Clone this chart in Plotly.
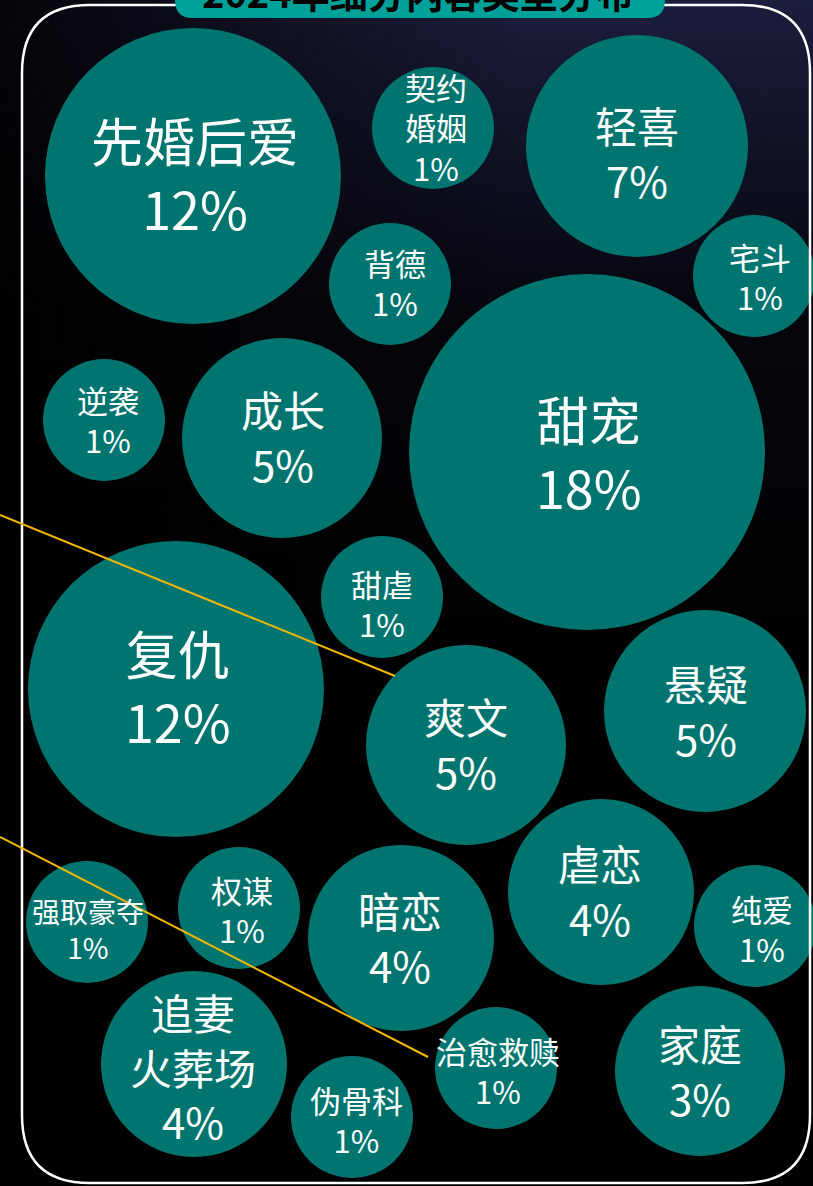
import plotly.graph_objects as go

# ---------------- data ----------------
categories = ["先婚后爱", "契约<br>婚姻", "轻喜", "宅斗", "背德", "逆袭", "成长", "甜宠", "甜虐",
              "复仇", "爽文", "悬疑", "虐恋", "纯爱", "强取豪夺", "权谋", "暗恋",
              "追妻<br>火葬场", "治愈救赎", "伪骨科", "家庭"]
shares = [12, 1, 7, 1, 1, 1, 5, 18, 1, 12, 5, 5, 4, 1, 1, 1, 4, 4, 1, 1, 3]
title_text = "2024年细分内容类型分布"

# ---------------- layout (pixel positions of the packed bubbles) ----------------
W, H = 813, 1186
bubble_x = [193, 433, 637, 754, 390, 104, 282, 587, 382, 176, 466, 705, 601, 755, 87, 239, 401, 194, 496, 352, 700]
bubble_y = [176, 128, 146, 276, 284, 420, 438, 452, 597, 689, 745, 711, 892, 926, 922, 908, 938, 1064, 1068, 1117, 1071]
bubble_r = [148, 61, 111, 61, 61, 61, 100, 178, 61, 148, 100, 101, 93, 61, 61, 61, 93, 93, 61, 61, 85]
label_x = [195, 436, 637, 760, 395, 108, 283, 589, 382, 178, 466, 706, 600, 762, 88, 242, 400, 193, 498, 356, 700]
label_y = [173, 127, 152, 276, 282, 419, 436, 452, 603, 686, 743, 710, 890, 928, 929, 909, 937, 1066, 1070, 1119, 1070]
label_font = [52, 31, 42, 31, 31, 31, 42, 52, 31, 52, 42, 42, 42, 31, 28, 31, 42, 42, 31, 31, 42]

BUBBLE = "#007570"
FONT = "Noto Sans CJK SC"

fig = go.Figure()

# background: dark navy glow at the top fading to black
fig.add_trace(go.Scatter(
    x=[0, W, W, 0, 0], y=[0, 0, H, H, 0], mode="none", fill="toself",
    fillgradient=dict(type="vertical",
                      colorscale=[[0, "#000000"], [0.55, "#05060c"], [1, "#1b1d3c"]],
                      start=700, stop=0),
    hoverinfo="skip", showlegend=False))
fig.add_trace(go.Scatter(
    x=[0, W, W, 0, 0], y=[0, 0, 720, 720, 0], mode="none", fill="toself",
    fillgradient=dict(type="horizontal",
                      colorscale=[[0, "rgba(0,0,0,0.85)"], [1, "rgba(0,0,0,0)"]],
                      start=0, stop=520),
    hoverinfo="skip", showlegend=False))

# bubbles
fig.add_trace(go.Scatter(
    x=bubble_x, y=bubble_y, mode="markers",
    marker=dict(size=[2 * r for r in bubble_r], sizemode="diameter",
                color=BUBBLE, opacity=1, line=dict(width=0)),
    hoverinfo="skip", showlegend=False))

# labels: name + percentage
for name, v, tx, ty, fs in zip(categories, shares, label_x, label_y, label_font):
    fig.add_annotation(x=tx, y=ty, text=f"{name}<br>{v}%", showarrow=False,
                       xanchor="center", yanchor="middle", align="center",
                       font=dict(family=FONT, size=fs, color="white"))

# rounded white frame
x0, x1, y0, y1, rr = 22, 810, 5, 1183, 68
frame = (f"M {x0 + rr},{y0} L {x1 - rr},{y0} Q {x1},{y0} {x1},{y0 + rr} "
         f"L {x1},{y1 - rr} Q {x1},{y1} {x1 - rr},{y1} L {x0 + rr},{y1} "
         f"Q {x0},{y1} {x0},{y1 - rr} L {x0},{y0 + rr} Q {x0},{y0} {x0 + rr},{y0} Z")
fig.add_shape(type="path", path=frame, xref="x", yref="y",
              line=dict(color="white", width=2.5), fillcolor="rgba(0,0,0,0)", layer="above")

# title tab
tx0, tx1, ty0, ty1, tr = 175, 665, -40, 18, 18
tab = (f"M {tx0},{ty0} L {tx1},{ty0} L {tx1},{ty1 - tr} Q {tx1},{ty1} {tx1 - tr},{ty1} "
       f"L {tx0 + tr},{ty1} Q {tx0},{ty1} {tx0},{ty1 - tr} Z")
fig.add_shape(type="path", path=tab, xref="x", yref="y",
              line=dict(width=0), fillcolor="#00a199", layer="above")
fig.add_annotation(x=418, xref="x", y=1 + 9 / H, yref="paper", text=f"<b>{title_text}</b>",
                   showarrow=False, xanchor="center", yanchor="middle",
                   font=dict(family=FONT, size=38, color="black"))

# yellow connector lines
fig.add_shape(type="line", x0=0, y0=515, x1=395, y1=676, xref="x", yref="y",
              line=dict(color="#f5b800", width=2), layer="above")
fig.add_shape(type="line", x0=0, y0=837, x1=428, y1=1057, xref="x", yref="y",
              line=dict(color="#f5b800", width=2), layer="above")

fig.update_layout(
    width=W, height=H, margin=dict(l=0, r=0, t=0, b=0),
    paper_bgcolor="black", plot_bgcolor="black",
    xaxis=dict(range=[0, W], visible=False, fixedrange=True),
    yaxis=dict(range=[H, 0], visible=False, fixedrange=True),
    showlegend=False,
)

fig.write_html("out.html", config={"displayModeBar": False},
               post_script="document.body.style.margin='0';document.body.style.padding='0';"
                           "document.body.style.overflow='hidden';")
